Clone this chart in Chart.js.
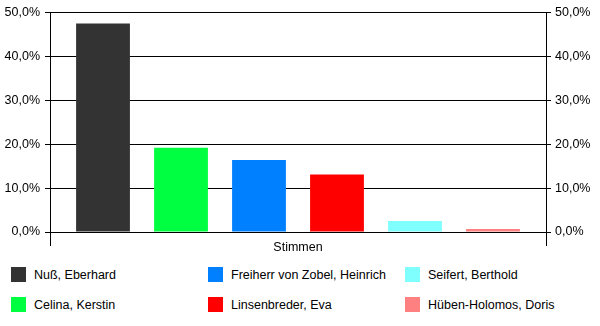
<!DOCTYPE html>
<html>
<head>
<meta charset="utf-8">
<script src="https://cdn.jsdelivr.net/npm/chart.js@4/dist/chart.umd.min.js"></script>
<style>
  html, body { margin:0; padding:0; background:#fff; }
  #wrap { position:relative; width:600px; height:326px; font-family:"Liberation Sans", Arial, sans-serif; }
  #box { position:absolute; left:0; top:0; width:600px; height:260px; }
  .leg { position:absolute; display:flex; align-items:center; font-size:12.5px; color:#000; white-space:nowrap; }
  .leg i { display:inline-block; width:15px; height:15px; margin-right:8px; }
</style>
</head>
<body>
<div id="wrap">
  <div id="box"><canvas id="chart"></canvas></div>
  <div id="legend"></div>
</div>
<script>
// --- Data ---
const categories = ['Stimmen'];
const candidates = ['Nuß, Eberhard', 'Celina, Kerstin', 'Freiherr von Zobel, Heinrich', 'Linsenbreder, Eva', 'Seifert, Berthold', 'Hüben-Holomos, Doris'];
const shares = [47.5, 19.2, 16.4, 13.1, 2.5, 0.7];
const colors = ['#333333', '#00ff40', '#0080ff', '#ff0000', '#80ffff', '#ff8080'];
const yTicks = [0, 10, 20, 30, 40, 50];

const fmt = v => v.toFixed(1).replace('.', ',') + '%';
const font = { family: '"Liberation Sans", Arial, sans-serif', size: 12.5 };

const datasets = candidates.map((name, i) => ({
  label: name,
  data: [shares[i]],
  backgroundColor: colors[i],
  borderWidth: 0,
  categoryPercentage: 0.9435,
  barPercentage: 0.69
}));

const yAxis = (pos) => ({
  position: pos,
  min: yTicks[0], max: yTicks[yTicks.length - 1],
  afterBuildTicks: s => { s.ticks = yTicks.map(v => ({ value: v })); },
  afterFit: s => { s.width = pos === 'left' ? 50 : 54; },
  border: { display: true, color: '#000', width: 1 },
  grid: { color: '#000', lineWidth: 1, tickLength: 5, drawOnChartArea: pos === 'left', drawTicks: true },
  ticks: { color: '#000', font, padding: pos === 'left' ? 5 : 4, callback: v => fmt(v) }
});

new Chart(document.getElementById('chart'), {
  type: 'bar',
  data: { labels: categories, datasets },
  options: {
    responsive: true,
    maintainAspectRatio: false,
    animation: false,
    layout: { padding: { top: 10, left: 0, right: 0, bottom: 0 } },
    plugins: { legend: { display: false }, tooltip: { enabled: false } },
    scales: {
      x: {
        afterFit: s => { s.height = 28; },
        border: { display: true, color: '#000', width: 1 },
        grid: { color: '#000', offset: true, drawOnChartArea: false, tickLength: 14 },
        ticks: { color: '#000', font, padding: -6 }
      },
      y: yAxis('left'),
      y2: yAxis('right')
    }
  }
});

// --- Legend: 3 columns, 2 rows, filled column by column ---
const legend = document.getElementById('legend');
candidates.forEach((name, i) => {
  const el = document.createElement('div');
  el.className = 'leg';
  el.style.left = (11 + Math.floor(i / 2) * 197) + 'px';
  el.style.top = (267 + (i % 2) * 30) + 'px';
  el.innerHTML = `<i style="background:${colors[i]}"></i><span>${name}</span>`;
  legend.appendChild(el);
});
</script>
</body>
</html>
